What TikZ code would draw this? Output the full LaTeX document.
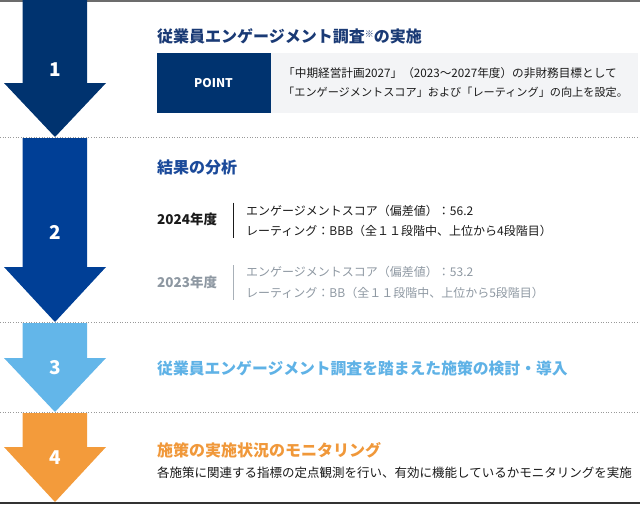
\documentclass[tikz,border=0pt]{standalone}
\usepackage{fontspec}
\setmainfont{Noto Sans CJK JP}
\definecolor{navyA}{HTML}{00336F}
\definecolor{navyB}{HTML}{003F96}
\definecolor{skyC}{HTML}{63B6E9}
\definecolor{orgD}{HTML}{F39B3B}
\definecolor{ttlA}{HTML}{1A3A75}
\definecolor{ttlB}{HTML}{1B4A9A}
\definecolor{ttlC}{HTML}{5FB2E6}
\definecolor{ttlD}{HTML}{F0983A}
\definecolor{boxgray}{HTML}{F3F4F6}
\definecolor{txtgray}{HTML}{8E98A2}
\definecolor{linegray}{HTML}{A8B0B8}
\definecolor{txtdark}{HTML}{1A1A1A}
\newcommand{\arrowshape}[4]{%
  \fill[#1] (22.5,#2) -- (87,#2) -- (87,#3) -- (106,#3) -- (55,#4) -- (4,#3) -- (22.5,#3) -- cycle;}
\tikzset{
  num/.style={text=white, font=\fontsize{19}{19}\selectfont\bfseries, inner sep=0},
  ttl/.style={anchor=west, inner sep=0, font=\fontsize{16}{16}\selectfont\bfseries, text height=14.08pt, text depth=1.92pt},
  body/.style={anchor=west, inner sep=0, font=\fontsize{12}{12}\selectfont, text=txtdark, text height=10.56pt, text depth=1.44pt},
  yearlbl/.style={body, font=\fontsize{13.5}{13.5}\selectfont\bfseries},
  pt/.style={anchor=west, inner sep=0, text=txtdark, text height=10.03pt, text depth=1.37pt},
  sep/.style={draw=gray!80, line width=0.8pt, dash pattern=on 1pt off 1.6pt},
}
\begin{document}
\begin{tikzpicture}[x=1pt,y=-1pt]
\useasboundingbox (0,0) rectangle (640,504);
% rules
\draw[draw=gray!85!black, line width=1.2pt] (0,1) -- (640,1);
\draw[sep] (0,137.5) -- (640,137.5);
\draw[sep] (0,322.5) -- (640,322.5);
\draw[sep] (0,412.5) -- (640,412.5);
\draw[draw=black!80, line width=1.6pt] (0,503) -- (640,503);
% arrows
\arrowshape{navyA}{0}{83}{137}
\arrowshape{navyB}{138}{267}{322}
\arrowshape{skyC}{323}{358}{412}
\arrowshape{orgD}{413}{447}{502}
\node[num] (n1) at (55,70) {1};
\node[num] (n2) at (55,232) {2};
\node[num] (n3) at (55,367.5) {3};
\node[num] (n4) at (55,457.5) {4};
% section 1
\node[ttl, text=ttlA] (t1) at (157,36.5) {従業員エンゲージメント調査{\fontsize{9}{9}\selectfont\raisebox{5pt}{※}}の実施};
\fill[boxgray] (270,53) rectangle (638,113);
\fill[navyA] (157,53) rectangle (270.5,113);
\node[text=white, font=\fontsize{12}{12}\selectfont\bfseries, inner sep=0] (point) at (213.5,83) {POINT};
\node[pt, font=\fontsize{11.65}{11.65}\selectfont] (p1) at (283,73.5) {「中期経営計画2027」（2023〜2027年度）の非財務目標として};
\node[pt, font=\fontsize{11.15}{11.15}\selectfont] (p2) at (283,92.5) {「エンゲージメントスコア」および「レーティング」の向上を設定。};
% section 2
\node[ttl, text=ttlB] (t2) at (157,167) {結果の分析};
\node[yearlbl] (y24) at (157,219.5) {2024年度};
\draw[txtdark, line width=1pt] (233.3,202.7) -- (233.3,238);
\node[body] (r1) at (246,211) {エンゲージメントスコア（偏差値）：56.2};
\node[body] (r2) at (246,231) {レーティング：BBB（全１１段階中、上位から4段階目）};
\node[yearlbl, text=txtgray] (y23) at (157,283) {2023年度};
\draw[linegray, line width=1pt] (233.3,265) -- (233.3,300);
\node[body, text=txtgray] (r3) at (246,271.5) {エンゲージメントスコア（偏差値）：53.2};
\node[body, text=txtgray] (r4) at (246,292.5) {レーティング：BB（全１１段階中、上位から5段階目）};
% section 3
\node[ttl, text=ttlC, font=\fontsize{15.8}{15.8}\selectfont\bfseries] (t3) at (157,368.5) {従業員エンゲージメント調査を踏まえた施策の検討・導入};
% section 4
\node[ttl, text=ttlD] (t4) at (157,450) {施策の実施状況のモニタリング};
\node[body, font=\fontsize{12.5}{12.5}\selectfont] (b4) at (157,472.5) {各施策に関連する指標の定点観測を行い、有効に機能しているかモニタリングを実施};
\end{tikzpicture}
\end{document}
